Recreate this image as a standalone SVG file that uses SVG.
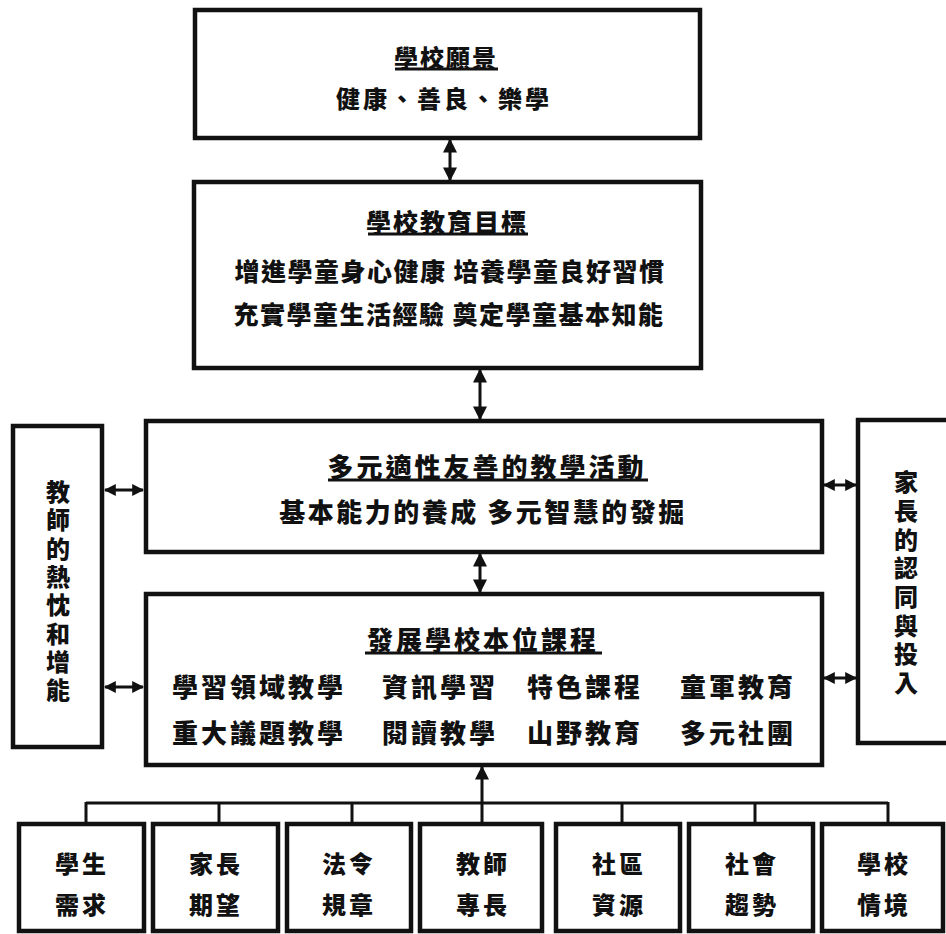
<svg xmlns="http://www.w3.org/2000/svg" width="946" height="934" viewBox="0 0 946 934">
<defs>
<style>
.box{fill:#ffffff;stroke:#111111;stroke-width:4.5}
.t{font-family:"Noto Sans CJK TC","Noto Sans CJK JP",sans-serif;font-weight:900;fill:#111111;text-anchor:middle;dominant-baseline:central}
.tl{font-family:"Noto Sans CJK TC","Noto Sans CJK JP",sans-serif;font-weight:900;fill:#111111;text-anchor:start;dominant-baseline:central}
.tv{font-family:"Noto Sans CJK TC","Noto Sans CJK JP",sans-serif;font-weight:900;fill:#111111;text-anchor:start;writing-mode:vertical-rl}
.ul{stroke:#111111;stroke-width:3}
.c{stroke:#111111;stroke-width:3;fill:none}
.va{marker-start:url(#ah);marker-end:url(#ah)}
.ha{marker-start:url(#ahs);marker-end:url(#ahs)}
.ua{marker-end:url(#ah)}
</style>
<marker id="ah" viewBox="0 0 10 10" refX="9" refY="5" markerUnits="userSpaceOnUse" markerWidth="14" markerHeight="15" orient="auto-start-reverse">
<path d="M0,0 L10,5 L0,10 z" fill="#111111"/>
</marker>
<marker id="ahs" viewBox="0 0 10 10" refX="9" refY="5" markerUnits="userSpaceOnUse" markerWidth="12" markerHeight="12" orient="auto-start-reverse">
<path d="M0,0 L10,5 L0,10 z" fill="#111111"/>
</marker>
</defs>
<rect width="946" height="934" fill="#ffffff"/>

<g id="connectors">
<line class="c va" x1="450" y1="140" x2="450" y2="180"/>
<line class="c va" x1="480" y1="370" x2="480" y2="419"/>
<line class="c va" x1="480" y1="554" x2="480" y2="592"/>
<line class="c ua" x1="482" y1="803" x2="482" y2="767"/>
<line class="c" x1="86" y1="803" x2="888" y2="803"/>
<line class="c" x1="86" y1="802" x2="86" y2="822"/>
<line class="c" x1="219" y1="802" x2="219" y2="822"/>
<line class="c" x1="352" y1="802" x2="352" y2="822"/>
<line class="c" x1="482" y1="802" x2="482" y2="822"/>
<line class="c" x1="622" y1="802" x2="622" y2="822"/>
<line class="c" x1="755" y1="802" x2="755" y2="822"/>
<line class="c" x1="888" y1="802" x2="888" y2="822"/>
<line class="c ha" x1="105" y1="490" x2="143" y2="490"/>
<line class="c ha" x1="105" y1="687" x2="143" y2="687"/>
<line class="c ha" x1="824" y1="485" x2="856" y2="485"/>
<line class="c ha" x1="824" y1="678" x2="856" y2="678"/>
</g>

<g id="vision">
<rect class="box" x="195" y="10" width="505" height="128"/>
<text class="t" x="446" y="56" font-size="24" letter-spacing="2">學校願景</text>
<line class="ul" x1="395" y1="69" x2="498" y2="69"/>
<text class="t" x="444" y="97" font-size="24" letter-spacing="3">健康、善良、樂學</text>
</g>

<g id="goals">
<rect class="box" x="194" y="182" width="507" height="186"/>
<text class="t" x="447" y="221" font-size="25" letter-spacing="2">學校教育目標</text>
<line class="ul" x1="368" y1="234" x2="528" y2="234"/>
<text class="t" x="450" y="270" font-size="25" letter-spacing="1.5">增進學童身心健康 培養學童良好習慣</text>
<text class="t" x="449" y="313" font-size="25" letter-spacing="1.5">充實學童生活經驗 奠定學童基本知能</text>
</g>

<g id="teaching">
<rect class="box" x="146" y="421" width="676" height="131"/>
<text class="t" x="487" y="465" font-size="26" letter-spacing="3">多元適性友善的教學活動</text>
<line class="ul" x1="328" y1="480" x2="648" y2="480"/>
<text class="t" x="483" y="510" font-size="26" letter-spacing="2.5">基本能力的養成 多元智慧的發掘</text>
</g>

<g id="curriculum">
<rect class="box" x="146" y="594" width="676" height="171"/>
<text class="t" x="483" y="638" font-size="26" letter-spacing="3">發展學校本位課程</text>
<line class="ul" x1="365" y1="653" x2="602" y2="653"/>
<text class="tl" x="172" y="685" font-size="26" letter-spacing="3">學習領域教學</text>
<text class="tl" x="382" y="685" font-size="26" letter-spacing="3">資訊學習</text>
<text class="tl" x="527" y="685" font-size="26" letter-spacing="3">特色課程</text>
<text class="tl" x="680" y="685" font-size="26" letter-spacing="3">童軍教育</text>
<text class="tl" x="172" y="731" font-size="26" letter-spacing="3">重大議題教學</text>
<text class="tl" x="382" y="731" font-size="26" letter-spacing="3">閱讀教學</text>
<text class="tl" x="527" y="731" font-size="26" letter-spacing="3">山野教育</text>
<text class="tl" x="680" y="731" font-size="26" letter-spacing="3">多元社團</text>
</g>

<g id="teachers">
<rect class="box" x="13" y="426" width="89" height="321"/>
<text class="tv" x="58" y="480" font-size="24" letter-spacing="4.3">教師的熱忱和增能</text>
</g>

<g id="parents">
<rect class="box" x="858" y="420" width="100" height="323"/>
<text class="tv" x="906" y="470" font-size="24" letter-spacing="4.7">家長的認同與投入</text>
</g>

<g id="src1">
<rect class="box" x="19" y="824" width="125" height="107"/>
<text class="t" x="82" y="862" font-size="24" letter-spacing="3">學生</text>
<text class="t" x="82" y="903" font-size="24" letter-spacing="3">需求</text>
</g>
<g id="src2">
<rect class="box" x="153" y="824" width="125" height="107"/>
<text class="t" x="216" y="862" font-size="24" letter-spacing="3">家長</text>
<text class="t" x="216" y="903" font-size="24" letter-spacing="3">期望</text>
</g>
<g id="src3">
<rect class="box" x="287" y="824" width="124" height="107"/>
<text class="t" x="349" y="862" font-size="24" letter-spacing="3">法令</text>
<text class="t" x="349" y="903" font-size="24" letter-spacing="3">規章</text>
</g>
<g id="src4">
<rect class="box" x="420" y="824" width="122" height="107"/>
<text class="t" x="483" y="862" font-size="24" letter-spacing="3">教師</text>
<text class="t" x="483" y="903" font-size="24" letter-spacing="3">專長</text>
</g>
<g id="src5">
<rect class="box" x="556" y="824" width="124" height="107"/>
<text class="t" x="619" y="862" font-size="24" letter-spacing="3">社區</text>
<text class="t" x="619" y="903" font-size="24" letter-spacing="3">資源</text>
</g>
<g id="src6">
<rect class="box" x="689" y="824" width="124" height="107"/>
<text class="t" x="752" y="862" font-size="24" letter-spacing="3">社會</text>
<text class="t" x="752" y="903" font-size="24" letter-spacing="3">趨勢</text>
</g>
<g id="src7">
<rect class="box" x="822" y="824" width="121" height="107"/>
<text class="t" x="884" y="862" font-size="24" letter-spacing="3">學校</text>
<text class="t" x="884" y="903" font-size="24" letter-spacing="3">情境</text>
</g>
</svg>
